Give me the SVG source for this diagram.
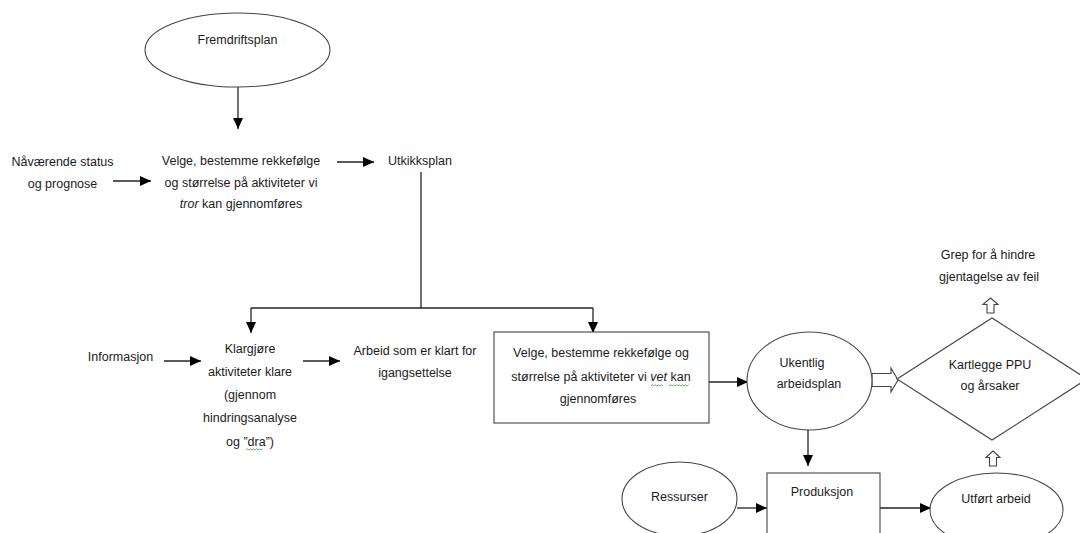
<svg xmlns="http://www.w3.org/2000/svg" width="1080" height="533" viewBox="0 0 1080 533">
  <defs>
    <marker id="arrow" markerUnits="userSpaceOnUse" markerWidth="12" markerHeight="11" refX="11" refY="5" orient="auto">
      <path d="M0,0 L11,5 L0,10 Z" fill="#000"/>
    </marker>
    <style>
      .bg { fill: #fff; }
      .shape { fill: #fff; stroke: #444; stroke-width: 1.1; }
      .link { fill: none; stroke: #222; stroke-width: 1.3; }
      .flow { fill: none; stroke: #222; stroke-width: 1.3; marker-end: url(#arrow); }
      .hollow { fill: #fff; stroke: #444; stroke-width: 1.1; stroke-linejoin: miter; }
      .squiggle { fill: none; stroke: #5aa25a; stroke-width: 0.9; }
      text { font-family: "Liberation Sans", Arial, sans-serif; font-size: 12.5px; fill: #1b1b1b; text-anchor: middle; }
      .start { text-anchor: start; }
      .it { font-style: italic; }
    </style>
  </defs>

  <rect class="bg" x="0" y="0" width="1080" height="533"/>

  <!-- connectors -->
  <g id="connectors">
    <line class="flow" x1="238" y1="87" x2="238" y2="129"/>
    <line class="flow" x1="113" y1="181" x2="151" y2="181"/>
    <line class="flow" x1="337" y1="162" x2="374" y2="162"/>
    <polyline class="link" points="421,172 421,308"/>
    <line class="link" x1="251" y1="308" x2="593" y2="308"/>
    <line class="flow" x1="251" y1="308" x2="251" y2="333"/>
    <line class="flow" x1="593" y1="308" x2="593" y2="333"/>
    <line class="flow" x1="164" y1="361" x2="201" y2="361"/>
    <line class="flow" x1="303" y1="361" x2="340" y2="361"/>
    <line class="flow" x1="709" y1="382" x2="748" y2="382"/>
    <line class="flow" x1="808" y1="430" x2="808" y2="466"/>
    <line class="flow" x1="737" y1="508" x2="767" y2="508"/>
    <line class="flow" x1="880" y1="508" x2="931" y2="508"/>
    <!-- block arrows -->
    <polygon class="hollow" points="872,373.5 891,373.5 891,368 898,380 891,392 891,386.5 872,386.5"/>
    <polygon class="hollow" points="990.5,298 998,304.5 994,304.5 994,313 987,313 987,304.5 983,304.5"/>
    <polygon class="hollow" points="993,451 1000,457.5 996.5,457.5 996.5,466 989.5,466 989.5,457.5 986,457.5"/>
  </g>

  <g id="fremdriftsplan">
    <ellipse class="shape" cx="237.5" cy="50" rx="92.5" ry="37"/>
    <text x="237.5" y="44">Fremdriftsplan</text>
  </g>

  <g id="naavaerende-status">
    <text x="62.5" y="166">Nåværende status</text>
    <text x="62.5" y="188">og prognose</text>
  </g>

  <g id="velge-tror">
    <text x="241" y="165">Velge, bestemme rekkefølge</text>
    <text x="241" y="187">og størrelse på aktiviteter vi</text>
    <text x="241" y="208"><tspan class="it">tror</tspan> kan gjennomføres</text>
  </g>

  <g id="utkikksplan">
    <text class="start" x="388" y="164.5">Utkikksplan</text>
  </g>

  <g id="informasjon">
    <text x="120.5" y="361">Informasjon</text>
  </g>

  <g id="klargjore">
    <text x="250" y="353">Klargjøre</text>
    <text x="250" y="376">aktiviteter klare</text>
    <text x="250" y="399">(gjennom</text>
    <text x="250" y="422">hindringsanalyse</text>
    <text x="250" y="446">og ”dra”)</text>
    <path class="squiggle" d="M246,450 l1.5,-1.2 l1.5,1.2 l1.5,-1.2 l1.5,1.2 l1.5,-1.2 l1.5,1.2 l1.5,-1.2 l1.5,1.2 l1.5,-1.2 l1.5,1.2 l1.5,-1.2"/>
  </g>

  <g id="arbeid-klart">
    <text x="415" y="355">Arbeid som er klart for</text>
    <text x="415" y="377">igangsettelse</text>
  </g>

  <g id="velge-vet">
    <rect class="shape" x="494" y="332" width="215" height="91"/>
    <text x="601" y="357">Velge, bestemme rekkefølge og</text>
    <text x="601" y="381">størrelse på aktiviteter vi <tspan class="it">vet</tspan> kan</text>
    <text x="598" y="403">gjennomføres</text>
    <path class="squiggle" d="M651,386 l1.5,-1.2 l1.5,1.2 l1.5,-1.2 l1.5,1.2 l1.5,-1.2 l1.5,1.2 l1.5,-1.2 l1.5,1.2"/>
    <path class="squiggle" d="M669,386 l1.5,-1.2 l1.5,1.2 l1.5,-1.2 l1.5,1.2 l1.5,-1.2 l1.5,1.2 l1.5,-1.2 l1.5,1.2 l1.5,-1.2 l1.5,1.2 l1.5,-1.2 l1.5,1.2 l1.5,-1.2"/>
  </g>

  <g id="ukentlig-arbeidsplan">
    <ellipse class="shape" cx="809.5" cy="381" rx="62.5" ry="49"/>
    <text x="802" y="367">Ukentlig</text>
    <text x="809" y="388">arbeidsplan</text>
  </g>

  <g id="kartlegge-ppu">
    <polygon class="shape" points="897,379 992,318 1087,379 992,440"/>
    <text x="990" y="369">Kartlegge PPU</text>
    <text x="990" y="390">og årsaker</text>
  </g>

  <g id="grep">
    <text x="988" y="259">Grep for å hindre</text>
    <text x="989" y="281">gjentagelse av feil</text>
  </g>

  <g id="ressurser">
    <ellipse class="shape" cx="679.5" cy="499" rx="57.5" ry="37"/>
    <text x="679.5" y="501">Ressurser</text>
  </g>

  <g id="produksjon">
    <rect class="shape" x="767" y="473" width="113" height="80"/>
    <text x="822" y="496">Produksjon</text>
  </g>

  <g id="utfort-arbeid">
    <ellipse class="shape" cx="996.5" cy="510" rx="66.5" ry="37"/>
    <text x="996" y="503">Utført arbeid</text>
  </g>
</svg>
